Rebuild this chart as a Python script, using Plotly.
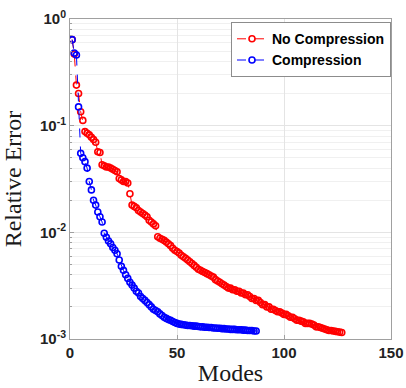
import plotly.graph_objects as go

no_comp = [0.64, 0.47, 0.24, 0.20, 0.135, 0.112, 0.088, 0.085, 0.082, 0.078,
           0.074, 0.070, 0.057, 0.056, 0.043, 0.042, 0.041, 0.041, 0.040, 0.039,
           0.038, 0.037, 0.032, 0.031, 0.030, 0.030, 0.029, 0.023, 0.018, 0.0175,
           0.017, 0.016, 0.0155, 0.015, 0.0145, 0.014, 0.013, 0.0125, 0.012, 0.0115,
           0.0091, 0.0088, 0.0086, 0.0084, 0.0081, 0.0078, 0.0075, 0.0071, 0.0068, 0.0066,
           0.0064, 0.0061, 0.0059, 0.0057, 0.0055, 0.0053, 0.0051, 0.0049, 0.0047, 0.0045,
           0.0044, 0.0043, 0.0042, 0.0041, 0.0040, 0.0039, 0.0038, 0.0036, 0.0035, 0.0034,
           0.0033, 0.0032, 0.0031, 0.0030, 0.0030, 0.0029, 0.0029, 0.0028, 0.0028, 0.0027,
           0.0027, 0.0026, 0.0026, 0.0025, 0.0024, 0.0024, 0.0023, 0.0023, 0.0022, 0.0021,
           0.0021, 0.0020, 0.0020, 0.0019, 0.0019, 0.00185, 0.0018, 0.0018, 0.00175, 0.0017,
           0.0017, 0.00165, 0.0016, 0.0016, 0.00155, 0.0015, 0.0015, 0.00147, 0.00145, 0.0014,
           0.0014, 0.0014, 0.00138, 0.00135, 0.0013, 0.0013, 0.00128, 0.00126, 0.00124, 0.00122,
           0.0012, 0.0012, 0.00119, 0.00118, 0.00117, 0.00116, 0.00115]

comp = [0.64, 0.48, 0.46, 0.15, 0.055, 0.050, 0.046, 0.040, 0.030, 0.025,
        0.020, 0.018, 0.0155, 0.014, 0.0125, 0.0098, 0.0090, 0.0083, 0.0078, 0.0072,
        0.0068, 0.0063, 0.0055, 0.0048, 0.0044, 0.0040, 0.0037, 0.0034, 0.0032, 0.0030,
        0.0028, 0.0027, 0.0025, 0.0024, 0.0023, 0.0022, 0.0021, 0.0020, 0.0019, 0.00185,
        0.0018, 0.00172, 0.00166, 0.0016, 0.00156, 0.00152, 0.0015, 0.00146, 0.00143, 0.0014,
        0.00138, 0.00137, 0.00136, 0.00135, 0.00134, 0.00134, 0.00133, 0.00132, 0.00132, 0.00131,
        0.0013, 0.0013, 0.00129, 0.00129, 0.00128, 0.00128, 0.00127, 0.00127, 0.00126, 0.00126,
        0.00125, 0.00125, 0.00124, 0.00124, 0.00123, 0.00123, 0.00123, 0.00122, 0.00122, 0.00122,
        0.00121, 0.00121, 0.0012, 0.0012, 0.0012, 0.00119, 0.00119]

modes_nc = list(range(1, len(no_comp) + 1))
modes_c = list(range(1, len(comp) + 1))

y_tickvals = [1e-3, 1e-2, 1e-1, 1]
y_ticktext = ["10<sup>-3</sup>", "10<sup>-2</sup>", "10<sup>-1</sup>", "10<sup>0</sup>"]
y_minor = [m * d for d in (1e-3, 1e-2, 1e-1) for m in range(2, 10)]
x_tickvals = [0, 50, 100, 150]

fig = go.Figure()
fig.add_trace(go.Scatter(
    x=modes_nc, y=no_comp, name="No Compression", mode="lines+markers",
    line=dict(color="#ff0000", width=1, dash="dash"),
    marker=dict(symbol="circle-open", size=6, color="#ff0000", line=dict(width=1.6)),
))
fig.add_trace(go.Scatter(
    x=modes_c, y=comp, name="Compression", mode="lines+markers",
    line=dict(color="#0000ff", width=1, dash="dash"),
    marker=dict(symbol="circle-open", size=6, color="#0000ff", line=dict(width=1.6)),
))

axis_common = dict(
    showline=True, linecolor="#a0a0a0", linewidth=1, mirror=True,
    showgrid=True, gridcolor="#e4e4e4", gridwidth=1,
    ticks="inside", ticklen=4, tickcolor="#a0a0a0",
    tickfont=dict(family="Liberation Sans, Arial", size=15, color="#222222", weight="bold"),
    zeroline=False, automargin=False,
)
title_font = dict(family="Liberation Serif, Times New Roman", size=24, color="#1a1a1a")

fig.update_layout(
    width=406, height=388,
    margin=dict(l=70, r=15, t=19, b=49),
    plot_bgcolor="white", paper_bgcolor="white",
    showlegend=True,
    legend=dict(
        x=1.0, y=0.99, xanchor="right", yanchor="top",
        bgcolor="white", bordercolor="#8c8c8c", borderwidth=1,
        font=dict(family="Liberation Sans, Arial", size=14, color="black", weight="bold"),
        tracegroupgap=0, itemwidth=30,
    ),
    xaxis=dict(
        range=[0, 150], tickvals=x_tickvals,
        title=dict(text="Modes", font=title_font, standoff=4),
        **axis_common,
    ),
    yaxis=dict(
        type="log", range=[-3, 0], tickvals=y_tickvals, ticktext=y_ticktext,
        minor=dict(tickvals=y_minor, showgrid=True, gridcolor="#f0f0f0", ticks="inside", ticklen=2, tickcolor="#a0a0a0"),
        title=dict(text="Relative Error", font=title_font, standoff=12),
        **axis_common,
    ),
)

fig.write_html("out.html")
